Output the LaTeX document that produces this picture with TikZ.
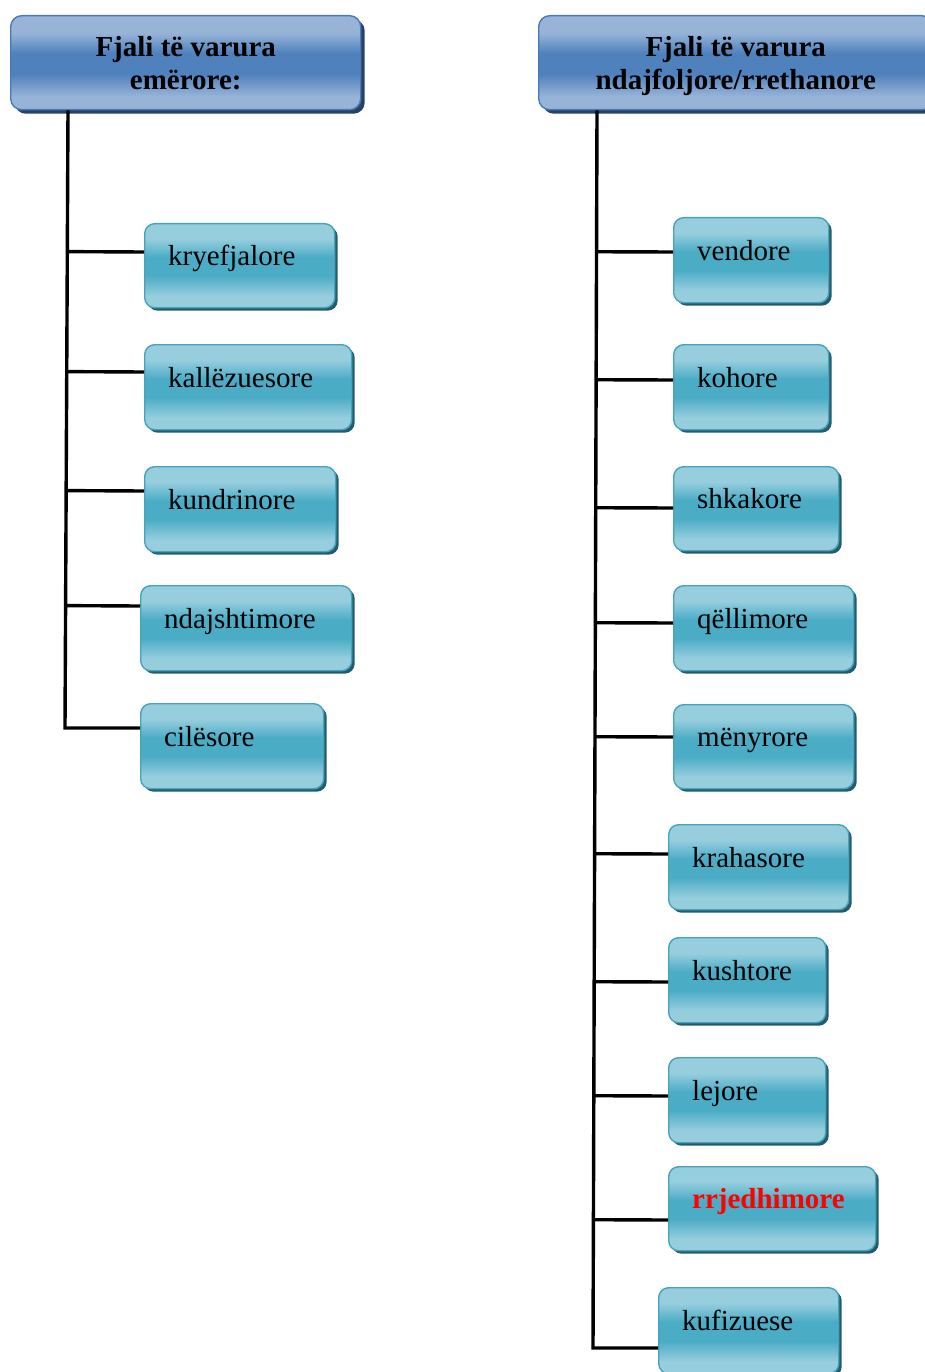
\documentclass[tikz,border=0pt]{standalone}
\usepackage{fontspec}
\setmainfont{Liberation Serif}
\usetikzlibrary{calc,shadows}

\definecolor{tealLight}{RGB}{150,206,222}
\definecolor{tealMid}{RGB}{75,172,198}
\definecolor{tealEdge}{RGB}{70,163,190}
\definecolor{tealShade}{RGB}{36,92,108}
\definecolor{blueLight}{RGB}{151,180,216}
\definecolor{blueMid}{RGB}{79,129,189}
\definecolor{blueEdge}{RGB}{74,122,182}
\definecolor{blueShade}{RGB}{40,66,100}

% glossy vertical gradients: light at the rims, saturated in the middle
\pgfdeclareverticalshading{tealgrad}{100bp}{color(0bp)=(tealLight); color(25bp)=(tealLight);
  color(32bp)=(tealLight); color(44bp)=(tealMid); color(55bp)=(tealMid);
  color(66bp)=(tealLight); color(75bp)=(tealLight); color(100bp)=(tealLight)}
\pgfdeclareverticalshading{bluegrad}{100bp}{color(0bp)=(blueLight); color(25bp)=(blueLight);
  color(32bp)=(blueLight); color(44bp)=(blueMid); color(55bp)=(blueMid);
  color(66bp)=(blueLight); color(75bp)=(blueLight); color(100bp)=(blueLight)}

\tikzset{
  head/.style={rectangle, rounded corners=11pt, anchor=north west, inner sep=0pt,
    draw=blueEdge, line width=1.4pt, shading=bluegrad,
    drop shadow={shadow xshift=4pt, shadow yshift=-4pt, fill=blueShade, opacity=1},
    align=center, font=\fontsize{29}{33}\selectfont\bfseries},
  leaf/.style={rectangle, rounded corners=10pt, anchor=north west, inner sep=0pt,
    draw=tealEdge, line width=1.4pt, shading=tealgrad,
    drop shadow={shadow xshift=3pt, shadow yshift=-3pt, fill=tealShade, opacity=1}},
  leaftext/.style={anchor=base west, xshift=24pt, inner sep=0pt,
    font=\fontsize{29}{33}\selectfont},
  conn/.style={draw=black, line width=3.4pt},
}

% leaf box: name, left, top, width, height, text
\newcommand\leafbox[6]{%
  \node[leaf, minimum width=#4pt, minimum height=#5pt,
        label={[leaftext]west:#6}] (#1) at (#2,#3) {};}
% horizontal branch from a trunk (top, bottom) to a box, #4 below its top edge
\newcommand\twig[4]{%
  \coordinate (#3-in) at ($(#3.north west)+(0,#4)$);
  \draw[conn] ($(#1)!(#3-in)!(#2)$) -- (#3-in);}

\begin{document}
\begin{tikzpicture}[x=1pt, y=-1pt]
\useasboundingbox (0,0) rectangle (925,1372);
\clip (0,0) rectangle (925,1372);

% headers
\node[head, minimum width=350pt, minimum height=94pt] (hL) at (10,15)
  {Fjali të varura\\emërore:};
\node[head, minimum width=394pt, minimum height=94pt] (hR) at (538,15)
  {Fjali të varura\\\raisebox{0pt}[\height][0pt]{ndajfoljore/rrethanore}};

% left column
\leafbox{kry}{144}{223}{190}{84}{kryefjalore}
\leafbox{kal}{144}{344}{207}{85}{kallëzuesore}
\leafbox{kun}{144}{466}{191}{85}{kundrinore}
\leafbox{nda}{140}{585}{211}{85}{ndajshtimore}
\leafbox{cil}{140}{703}{183}{85}{cilësore}

% right column
\leafbox{ven}{673}{217}{155}{85}{vendore}
\leafbox{koh}{673}{344}{155}{85}{kohore}
\leafbox{shk}{673}{466}{165}{84}{shkakore}
\leafbox{qel}{673}{585}{180}{85}{qëllimore}
\leafbox{men}{673}{704}{180}{84}{mënyrore}
\leafbox{kra}{668}{824}{180}{85}{krahasore}
\leafbox{kus}{668}{937}{157}{85}{kushtore}
\leafbox{lej}{668}{1057}{157}{85}{lejore}
\leafbox{rrj}{668}{1166}{207}{84}{\textbf{\textcolor{red}{rrjedhimore}}}
\leafbox{kuf}{658}{1287}{180}{86}{kufizuese}

% left trunk
\coordinate (Ltop) at ($(hL.south west)+(58,0)$);
\coordinate (Lbot) at (65,728);
\draw[conn] (Ltop) -- (Lbot) -- (Lbot -| cil.west);
\twig{Ltop}{Lbot}{kry}{29}
\twig{Ltop}{Lbot}{kal}{28}
\twig{Ltop}{Lbot}{kun}{25}
\twig{Ltop}{Lbot}{nda}{21}

% right trunk
\coordinate (Rtop) at ($(hR.south west)+(59,0)$);
\coordinate (Rbot) at (593,1348);
\draw[conn] (Rtop) -- (Rbot) -- (Rbot -| kuf.west);
\twig{Rtop}{Rbot}{ven}{35}
\twig{Rtop}{Rbot}{koh}{36}
\twig{Rtop}{Rbot}{shk}{42}
\twig{Rtop}{Rbot}{qel}{38}
\twig{Rtop}{Rbot}{men}{33}
\twig{Rtop}{Rbot}{kra}{30}
\twig{Rtop}{Rbot}{kus}{45}
\twig{Rtop}{Rbot}{lej}{39}
\twig{Rtop}{Rbot}{rrj}{54}
\end{tikzpicture}
\end{document}
